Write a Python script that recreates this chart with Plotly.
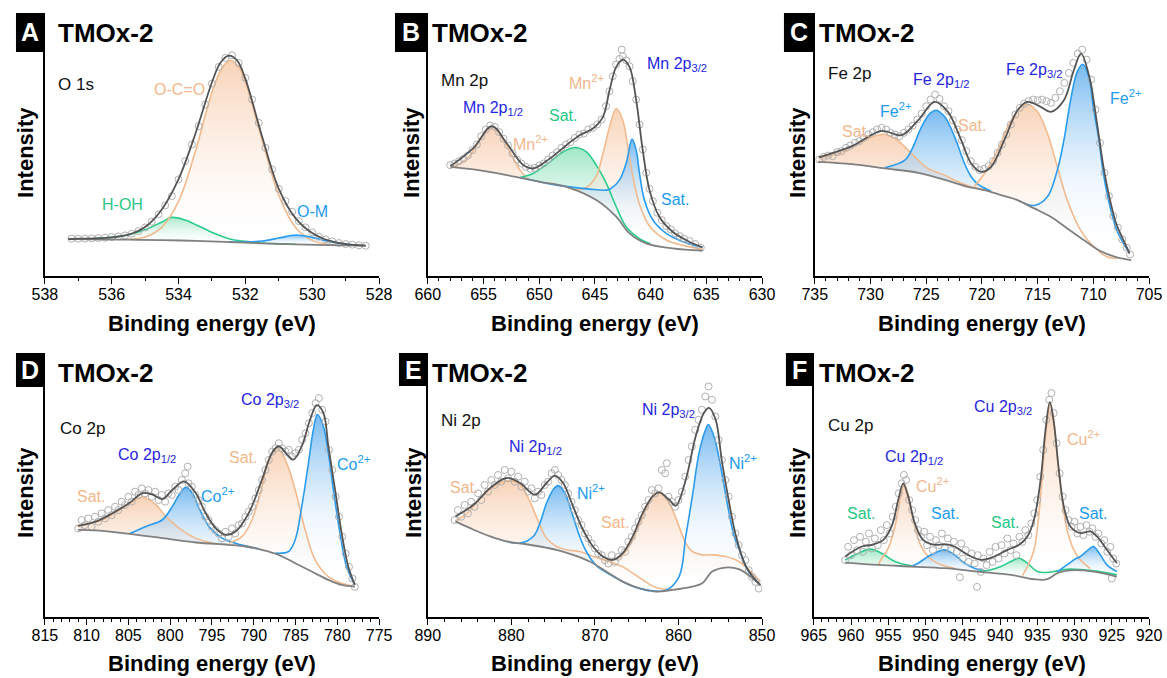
import plotly.graph_objects as go

W, H = 1167, 678
FONT = "Liberation Sans, Arial, sans-serif"

# ===================== DATA (binding energy eV, intensity a.u.) =====================
# ---- A: O 1s ----
A_bg = [(537.3,111),(536.5,110),(535.5,109),(534.5,108),(533.5,105.5),(532.5,102),(531.5,98),(530.5,95),(529.5,93),(528.4,91)]
A_hoh = [(536.5,113),(536.0,116),(535.5,124),(535.0,139),(534.5,162),(534.2,176),(533.8,168),(533.4,150),(533.0,131),(532.5,112),(532.0,104),(531.5,99),(531.0,96.5),(530.5,95.2)]
A_oco = [(535.5,110),(535.0,117),(534.5,146),(534.0,224),(533.5,373),(533.0,552),(532.7,625),(532.45,648),(532.2,628),(532.0,583),(531.5,409),(531.0,243),(530.5,146),(530.0,107),(529.5,95)]
A_om = [(532.5,102.5),(532.0,102),(531.5,105),(531.0,114),(530.5,123),(530.0,116),(529.5,104),(529.0,96),(528.5,92)]
A_env = [(537.3,111),(537.0,112),(536.5,113),(536.0,116),(535.5,124),(535.0,147),(534.5,200),(534.0,291),(533.5,426),(533.0,582),(532.75,640),(532.5,662),(532.25,648),(532.0,592),(531.5,419),(531.0,262),(530.5,174),(530.0,129),(529.5,106),(529.0,96),(528.4,91)]
A_pts = [(537.2,112),(537.0,112),(536.8,112),(536.6,113),(536.4,114),(536.2,115),(536.0,117),(535.8,119),(535.6,122),(535.4,127),(535.2,135),(535.0,146),(534.8,163),(534.6,185),(534.4,212),(534.2,240),(534.0,290),(533.8,345),(533.6,395),(533.4,450),(533.2,515),(533.0,578),(532.8,628),(532.6,655),(532.4,663),(532.2,640),(532.0,595),(531.8,530),(531.6,460),(531.4,385),(531.2,320),(531.0,262),(530.8,225),(530.6,193),(530.4,165),(530.2,146),(530.0,131),(529.8,118),(529.6,110),(529.4,104),(529.2,99),(529.0,96),(528.8,94),(528.6,92),(528.4,91)]

# ---- B: Mn 2p ----
B_bg = [(657.97,328),(655.89,320),(652.91,303),(649.94,283),(647.56,268),(644.88,228),(643.09,178),(641.9,128),(640.41,98),(638.03,83),(635.35,76)]
B_mn1 = [(657.97,329),(657.08,338),(656.19,363),(655.3,413),(654.25,450),(653.36,418),(652.62,373),(651.72,318),(651.13,296)]
B_sat = [(651.72,296),(650.54,308),(649.04,343),(647.85,373),(646.8,386),(645.77,373),(644.88,333),(643.98,278),(643.09,208),(642.2,148),(641.0,112),(640.0,97)]
B_mn2 = [(646.96,258),(645.77,266),(644.88,300),(644.28,368),(643.69,448),(643.09,503),(642.5,468),(642.05,388),(641.6,300),(641.0,215),(640.1,150),(638.6,108),(637.1,92),(635.35,80)]
B_sat2 = [(651.72,296),(648.45,273),(645.47,261),(643.98,258),(643.54,263),(642.8,288),(642.2,338),(641.67,411),(641.3,378),(641.0,308),(640.56,228),(639.8,168),(638.6,128),(637.1,103),(635.35,86)]
B_env = [(657.97,330),(655.89,385),(654.25,450),(652.91,398),(651.42,333),(650.54,323),(649.04,353),(647.56,393),(646.37,423),(645.18,443),(644.28,478),(643.69,558),(643.09,628),(642.5,650),(641.9,628),(641.3,528),(640.71,378),(640.1,258),(639.22,178),(638.03,133),(636.54,103),(635.35,86)]
B_pts = [(658.0,333),(657.6,338),(657.2,345),(656.8,352),(656.4,362),(656.0,378),(655.6,395),(655.2,420),(654.8,440),(654.4,452),(654.0,448),(653.6,432),(653.2,412),(652.8,392),(652.4,368),(652.0,350),(651.6,338),(651.2,328),(650.8,322),(650.4,325),(650.0,332),(649.6,338),(649.2,350),(648.8,362),(648.4,372),(648.0,385),(647.6,395),(647.2,402),(646.8,415),(646.4,425),(646.0,428),(645.6,440),(645.2,445),(644.8,455),(644.4,470),(644.0,510),(643.7,555),(643.4,600),(643.1,635),(642.8,652),(642.6,680),(642.5,660),(642.2,648),(641.9,630),(641.6,585),(641.3,530),(641.0,455),(640.7,380),(640.4,310),(640.1,262),(639.8,225),(639.4,190),(639.0,168),(638.6,150),(638.2,140),(637.8,128),(637.4,120),(637.0,112),(636.5,105),(636.0,96),(635.5,85)]

# ---- C: Fe 2p ----
C_bg = [(734.7,343),(731.67,336),(728.7,323),(725.72,310),(722.75,283),(721.26,268),(719.77,258),(718.28,243),(716.8,228),(715.31,203),(713.83,178),(712.34,143),(710.86,108),(709.37,75),(707.88,56),(706.6,48)]
C_sat1 = [(734.64,355),(732.86,368),(731.67,388),(730.18,413),(728.85,426),(727.8,413),(726.91,388),(726.02,358),(724.83,323),(723.34,303),(722.16,283),(720.96,268),(719.77,258)]
C_fe1 = [(728.7,325),(726.91,348),(726.32,378),(725.42,448),(724.68,488),(724.09,498),(723.34,478),(722.45,418),(721.56,338),(720.96,298),(720.37,276),(719.18,255)]
C_sat2 = [(720.67,270),(719.77,308),(718.58,378),(717.54,458),(716.5,508),(715.91,516),(715.01,493),(714.12,428),(713.23,328),(712.34,228),(711.15,138),(709.96,88),(708.77,58),(707.88,53)]
C_fe2 = [(716.8,228),(715.3,212),(714.12,238),(713.23,318),(712.64,408),(712.04,528),(711.45,613),(710.94,636),(710.4,598),(710.0,508),(709.5,408),(709.1,308),(708.5,208),(707.9,138),(707.3,98),(706.75,68)]
C_env = [(734.64,356),(731.67,390),(729.0,436),(727.21,423),(725.72,468),(724.24,523),(723.05,493),(721.86,408),(720.96,338),(720.07,313),(719.18,328),(717.99,408),(716.8,498),(715.91,523),(714.72,508),(713.83,493),(712.64,528),(711.75,618),(711.1,668),(710.3,590),(709.9,510),(709.5,420),(709.1,330),(708.5,228),(707.9,153),(707.3,108),(706.75,68)]
C_pts = [(734.6,350),(734.2,358),(733.8,362),(733.4,360),(733.0,372),(732.6,375),(732.2,385),(731.8,392),(731.4,400),(731.0,405),(730.6,415),(730.2,425),(729.8,432),(729.4,440),(729.0,445),(728.6,440),(728.2,430),(727.8,425),(727.4,420),(727.0,430),(726.6,440),(726.2,452),(725.8,470),(725.4,488),(725.0,510),(724.6,530),(724.2,545),(723.8,532),(723.4,510),(723.0,495),(722.6,468),(722.2,440),(721.8,408),(721.4,375),(721.0,345),(720.6,328),(720.2,318),(719.8,322),(719.4,330),(719.0,345),(718.6,370),(718.2,395),(717.8,425),(717.4,455),(717.0,485),(716.6,505),(716.2,518),(715.8,525),(715.4,530),(715.0,528),(714.6,530),(714.2,525),(713.8,520),(713.4,535),(713.0,555),(712.6,580),(712.2,610),(711.8,640),(711.4,668),(711.0,680),(710.6,650),(710.2,590),(709.8,500),(709.4,400),(709.0,310),(708.6,240),(708.2,180),(707.8,145),(707.4,110),(707.0,85),(706.7,65)]

# ---- D: Co 2p ----
D_bg = [(811.04,261),(808.85,259),(804.89,249),(800.92,236),(796.95,223),(792.98,216),(790.99,211),(789.01,201),(787.02,186),(785.04,161),(783.06,136),(781.07,111),(779.48,96),(777.9,91)]
D_sat1 = [(811.04,271),(808.06,291),(805.68,326),(803.3,359),(801.71,336),(800.52,301),(798.93,266),(796.95,236),(794.96,221),(792.98,216)]
D_co1 = [(804.89,249),(802.9,271),(800.92,291),(799.73,331),(798.93,366),(798.14,388),(797.35,371),(796.55,326),(795.36,271),(793.77,236),(792.18,221),(790.6,211),(789.4,204)]
D_sat2 = [(792.98,221),(791.39,241),(790.2,291),(789.01,391),(788.21,471),(787.22,506),(786.23,471),(785.04,381),(783.85,261),(782.66,171),(781.07,121),(779.48,101),(777.9,91)]
D_co2 = [(787.42,191),(785.83,196),(785.04,231),(784.25,331),(783.45,461),(782.86,561),(782.38,606),(781.67,571),(781.07,491),(780.47,381),(779.68,251),(778.89,151),(777.9,96)]
D_env = [(811.04,273),(808.85,286),(806.87,311),(804.89,341),(803.3,371),(802.11,366),(800.92,353),(799.73,381),(798.34,406),(796.95,371),(795.76,311),(794.56,266),(793.37,246),(792.18,256),(790.6,311),(789.01,411),(787.82,491),(787.02,511),(785.83,481),(785.24,471),(784.25,511),(783.25,591),(782.46,634),(781.67,611),(781.07,511),(780.27,381),(779.48,251),(778.69,151),(777.9,96)]
D_pts = [(811.0,265),(810.6,290),(810.2,275),(809.8,295),(809.4,270),(809.0,300),(808.6,285),(808.2,310),(807.8,295),(807.4,320),(807.0,305),(806.6,330),(806.2,320),(805.8,345),(805.4,335),(805.0,360),(804.6,345),(804.2,375),(803.8,365),(803.4,385),(803.0,370),(802.6,380),(802.2,360),(801.8,375),(801.4,350),(801.0,365),(800.6,345),(800.2,370),(799.8,365),(799.4,390),(799.0,380),(798.6,410),(798.2,430),(797.9,450),(797.8,400),(797.4,390),(797.0,365),(796.6,350),(796.2,330),(795.8,300),(795.4,290),(795.0,270),(794.6,260),(794.2,250),(793.8,235),(793.4,255),(793.0,240),(792.6,265),(792.2,250),(791.8,275),(791.4,280),(791.0,300),(790.6,315),(790.2,330),(789.8,355),(789.4,380),(789.0,410),(788.6,440),(788.2,470),(787.8,495),(787.4,505),(787.0,520),(786.6,505),(786.2,495),(785.8,500),(785.4,480),(785.0,490),(784.6,500),(784.2,530),(783.8,550),(783.4,580),(783.0,610),(782.6,640),(782.2,655),(781.8,620),(781.4,585),(781.0,500),(780.6,440),(780.2,360),(779.8,300),(779.4,240),(779.0,190),(778.6,150),(778.2,115),(777.9,90)]

# ---- E: Ni 2p ----
E_bg = [(886.7,286),(884.52,261),(882.54,241),(880.55,226),(878.57,219),(876.58,211),(874.6,201),(872.62,186),(870.63,166),(868.65,136),(866.67,106),(864.69,86),(862.7,76),(860.72,81),(858.5,90),(857.15,101),(855.96,136),(854.37,148),(852.78,143),(851.6,125),(850.2,96)]
E_sat1 = [(886.7,288),(885.3,311),(883.72,356),(882.14,391),(880.35,408),(878.97,396),(877.78,346),(876.78,286),(875.79,236),(874.6,211),(873.41,201),(871.82,196),(870.24,181),(868.65,169),(866.67,150),(864.69,118),(862.7,88),(860.72,82)]
E_ni1 = [(880.55,226),(878.97,221),(877.38,241),(876.58,281),(875.79,341),(875.0,381),(874.4,393),(873.61,371),(872.62,301),(871.82,241),(871.03,196),(869.84,154),(867.86,122),(865.48,92),(863.5,78)]
E_sat2 = [(869.05,171),(867.86,169),(866.67,186),(865.48,231),(864.29,301),(863.3,351),(862.5,373),(861.51,356),(860.72,321),(859.93,271),(859.13,221),(858.34,196),(857.15,186),(855.96,186),(854.37,181),(852.78,166),(850.2,106)]
E_ni2 = [(864.69,86),(861.51,80),(859.93,121),(859.13,241),(858.34,361),(857.54,491),(856.75,561),(856.43,576),(855.76,541),(854.96,451),(854.17,341),(853.38,245),(852.78,205),(851.6,135),(850.2,95)]
E_env = [(886.7,301),(884.52,336),(882.54,386),(880.55,416),(878.97,401),(877.18,366),(875.79,401),(874.8,423),(873.81,401),(872.62,331),(871.43,261),(870.24,211),(869.05,181),(867.86,171),(866.67,191),(865.48,241),(864.29,311),(863.1,361),(862.3,373),(861.12,351),(860.32,333),(859.13,411),(857.94,541),(856.95,611),(856.35,626),(855.56,591),(854.8,465),(854.0,350),(853.2,250),(852.0,155),(850.8,111),(850.2,96)]
E_pts = [(886.8,290),(886.4,320),(886.0,300),(885.6,335),(885.2,310),(884.8,345),(884.4,330),(884.0,370),(883.6,350),(883.2,395),(882.8,375),(882.4,410),(882.0,395),(881.6,425),(881.2,405),(880.8,440),(880.4,415),(880.0,435),(879.6,405),(879.2,420),(878.8,390),(878.4,405),(878.0,375),(877.6,385),(877.2,355),(876.8,375),(876.4,365),(876.0,395),(875.6,405),(875.2,430),(874.8,440),(874.4,425),(874.0,410),(873.6,395),(873.2,370),(872.8,345),(872.4,320),(872.0,290),(871.6,275),(871.2,250),(870.8,235),(870.4,220),(870.0,205),(869.6,190),(869.2,185),(868.8,170),(868.4,160),(868.0,185),(867.6,165),(867.2,180),(866.8,200),(866.4,195),(866.0,225),(865.6,240),(865.2,265),(864.8,285),(864.4,305),(864.0,330),(863.6,350),(863.2,380),(862.8,370),(862.4,385),(862.0,440),(861.6,430),(861.4,460),(861.2,360),(860.8,345),(860.4,330),(860.0,350),(859.6,375),(859.2,420),(858.8,470),(858.4,510),(858.0,560),(857.6,590),(857.2,620),(856.8,660),(856.4,690),(856.0,650),(855.6,600),(855.2,530),(854.8,470),(854.4,410),(854.0,360),(853.6,300),(853.2,250),(852.8,215),(852.4,185),(852.0,170),(851.6,140),(851.2,120),(850.8,105),(850.4,85)]

# ---- F: Cu 2p ----
F_bg = [(960.78,163),(956.33,156),(951.89,151),(947.44,146),(943.0,136),(938.55,126),(935.44,113),(933.66,113),(932.33,131),(931.0,139),(927.43,136),(924.32,121)]
F_sat1 = [(960.78,171),(959.0,191),(957.44,203),(955.89,191),(954.11,166),(951.89,153)]
F_cu1 = [(956.33,157),(955.89,175),(955.0,206),(954.11,271),(953.44,351),(952.86,398),(952.33,366),(951.66,291),(950.77,221),(949.66,181),(948.33,160),(946.11,146)]
F_sat2 = [(951.89,151),(951.0,161),(949.66,181),(948.33,196),(947.44,201),(946.11,186),(944.77,161),(943.44,146),(942.0,138)]
F_sat3 = [(943.0,137),(941.66,139),(939.88,151),(938.55,166),(937.44,176),(936.33,161),(935.0,136),(933.89,133),(932.33,138),(931.0,143),(927.43,138),(924.32,126)]
F_cu2 = [(937.0,124),(936.33,150),(935.44,201),(934.77,311),(934.2,461),(933.66,591),(933.31,641),(932.86,601),(932.33,481),(931.66,351),(931.0,261),(930.1,201),(929.21,171),(927.88,145)]
F_sat4 = [(932.33,135),(931.0,156),(930.1,171),(929.21,181),(927.88,206),(927.43,211),(926.54,186),(925.65,156),(924.32,136)]
F_env = [(960.78,181),(958.55,211),(957.22,216),(955.66,231),(954.55,271),(953.66,351),(953.0,399),(952.33,361),(951.44,281),(950.33,231),(948.77,216),(947.44,218),(946.11,211),(944.33,186),(942.55,171),(940.77,181),(938.99,201),(937.44,216),(936.33,241),(935.44,291),(934.55,411),(933.89,561),(933.31,643),(932.77,581),(932.11,441),(931.44,331),(930.55,271),(929.21,251),(927.88,256),(926.99,241),(925.65,201),(924.32,161)]
F_pts = [(960.8,170),(960.4,210),(960.0,185),(959.6,230),(959.2,200),(958.8,240),(958.4,195),(958.0,225),(957.6,250),(957.2,205),(956.8,235),(956.4,215),(956.0,260),(955.6,230),(955.2,275),(954.8,250),(954.4,300),(954.0,330),(953.6,370),(953.2,400),(952.9,425),(952.6,410),(952.2,350),(951.8,320),(951.4,290),(951.0,260),(950.6,240),(950.2,255),(949.8,215),(949.4,240),(949.0,200),(948.6,230),(948.2,215),(947.8,250),(947.4,205),(947.0,235),(946.6,200),(946.2,225),(945.8,195),(945.4,119),(945.2,220),(945.0,175),(944.6,200),(944.2,165),(943.8,190),(943.4,160),(943.1,90),(943.0,185),(942.6,135),(942.2,175),(941.8,155),(941.4,195),(941.0,165),(940.6,210),(940.2,175),(939.8,215),(939.4,190),(939.0,235),(938.6,200),(938.2,220),(937.8,185),(937.4,240),(937.0,225),(936.6,260),(936.2,245),(935.8,280),(935.4,310),(935.0,350),(934.6,420),(934.2,500),(933.8,590),(933.4,650),(933.1,670),(932.8,610),(932.4,520),(932.0,430),(931.6,360),(931.2,320),(930.8,290),(930.4,270),(930.0,285),(929.6,250),(929.2,270),(928.8,245),(928.4,275),(928.0,255),(927.6,265),(927.2,240),(926.8,250),(926.4,220),(926.0,230),(925.6,195),(925.2,210),(925.0,115),(924.8,175),(924.4,160)]

# axis ranges
A_range, B_range, C_range = (538, 528), (660, 630), (735, 705)
D_range, E_range, F_range = (815, 775), (890, 850), (965, 920)

# ===================== STYLE =====================
LINE = {'o': '#F2BA8F', 'g': '#2DCB8B', 'b': '#2B9BEE'}
FILL = {
    'o': [[0, 'rgba(255,255,255,0)'], [0.4, 'rgba(252,232,218,0.40)'], [1, 'rgba(246,196,160,0.75)']],
    'g': [[0, 'rgba(255,255,255,0)'], [0.4, 'rgba(218,246,232,0.40)'], [1, 'rgba(95,215,160,0.60)']],
    'b': [[0, 'rgba(255,255,255,0)'], [0.4, 'rgba(215,235,251,0.40)'], [1, 'rgba(75,163,236,0.75)']],
}
LBL = {'o': '#F3B78B', 'g': '#27C784', 'b': '#1C9BEF', 'd': '#2626E0', 'k': '#111111'}

panels = [
    dict(L='A', x0=42, x1=378, y0=13, y1=276, rng=A_range, dtick=2, minor=1,
         bg=A_bg, comps=[('g', A_hoh), ('o', A_oco), ('b', A_om)], env=A_env, pts=A_pts,
         box=(13, 13, 42, 52), tm=(53, 33), ylab=(22, 152), xlab=(210, 323),
         labels=[('O 1s', 53, 85, 'k', 17, 'left'), ('O-C=O', 177, 89, 'o', 16, 'center'),
                 ('H-OH', 120, 204, 'g', 16, 'center'), ('O-M', 311, 211, 'b', 16, 'center')]),
    dict(L='B', x0=427, x1=763, y0=13, y1=276, rng=B_range, dtick=5, minor=1,
         bg=B_bg, comps=[('o', B_mn1), ('g', B_sat), ('o', B_mn2), ('b', B_sat2)], env=B_env, pts=B_pts,
         box=(394, 13, 426, 52), tm=(429, 33), ylab=(410, 152), xlab=(595, 323),
         labels=[('Mn 2p', 438, 80, 'k', 17, 'left'), ('Mn 2p<sub>1/2</sub>', 493, 108, 'd', 16, 'center'),
                 ('Mn<sup>2+</sup>', 530, 143, 'o', 16, 'center'), ('Sat.', 563, 115, 'g', 16, 'center'),
                 ('Mn<sup>2+</sup>', 587, 82, 'o', 16, 'center'), ('Mn 2p<sub>3/2</sub>', 677, 65, 'd', 16, 'center'),
                 ('Sat.', 675, 200, 'b', 16, 'center')]),
    dict(L='C', x0=816, x1=1152, y0=13, y1=276, rng=C_range, dtick=5, minor=1,
         bg=C_bg, comps=[('o', C_sat1), ('b', C_fe1), ('o', C_sat2), ('b', C_fe2)], env=C_env, pts=C_pts,
         box=(785, 13, 815, 52), tm=(818, 33), ylab=(798, 152), xlab=(984, 323),
         labels=[('Fe 2p', 827, 73, 'k', 17, 'left'), ('Fe<sup>2+</sup>', 897, 110, 'b', 16, 'center'),
                 ('Fe 2p<sub>1/2</sub>', 943, 80, 'd', 16, 'center'), ('Sat.', 857, 132, 'o', 16, 'center'),
                 ('Sat.', 974, 125, 'o', 16, 'center'), ('Fe 2p<sub>3/2</sub>', 1036, 70, 'd', 16, 'center'),
                 ('Fe<sup>2+</sup>', 1128, 97, 'b', 16, 'center')]),
    dict(L='D', x0=42, x1=378, y0=353, y1=617, rng=D_range, dtick=5, minor=1,
         bg=D_bg, comps=[('o', D_sat1), ('b', D_co1), ('o', D_sat2), ('b', D_co2)], env=D_env, pts=D_pts,
         box=(13, 353, 42, 387), tm=(53, 373), ylab=(22, 492), xlab=(210, 663),
         labels=[('Co 2p', 55, 428, 'k', 17, 'left'), ('Co 2p<sub>1/2</sub>', 145, 455, 'd', 16, 'center'),
                 ('Sat.', 88, 497, 'o', 16, 'center'), ('Co<sup>2+</sup>', 216, 495, 'b', 16, 'center'),
                 ('Co 2p<sub>3/2</sub>', 268, 400, 'd', 16, 'center'), ('Sat.', 241, 457, 'o', 16, 'center'),
                 ('Co<sup>2+</sup>', 352, 463, 'b', 16, 'center')]),
    dict(L='E', x0=427, x1=763, y0=353, y1=617, rng=E_range, dtick=10, minor=2,
         bg=E_bg, comps=[('o', E_sat1), ('b', E_ni1), ('o', E_sat2), ('b', E_ni2)], env=E_env, pts=E_pts,
         box=(398, 353, 427, 386), tm=(429, 373), ylab=(412, 492), xlab=(595, 663),
         labels=[('Ni 2p', 438, 420, 'k', 17, 'left'), ('Ni 2p<sub>1/2</sub>', 535, 447, 'd', 16, 'center'),
                 ('Sat.', 463, 487, 'o', 16, 'center'), ('Ni<sup>2+</sup>', 591, 492, 'b', 16, 'center'),
                 ('Sat.', 615, 522, 'o', 16, 'center'), ('Ni 2p<sub>3/2</sub>', 669, 410, 'd', 16, 'center'),
                 ('Ni<sup>2+</sup>', 744, 462, 'b', 16, 'center')]),
    dict(L='F', x0=815, x1=1152, y0=353, y1=617, rng=F_range, dtick=5, minor=1,
         bg=F_bg, comps=[('g', F_sat1), ('o', F_cu1), ('b', F_sat2), ('g', F_sat3), ('o', F_cu2), ('b', F_sat4)],
         env=F_env, pts=F_pts,
         box=(787, 353, 815, 386), tm=(818, 373), ylab=(798, 492), xlab=(984, 663),
         labels=[('Cu 2p', 827, 425, 'k', 17, 'left'), ('Cu 2p<sub>1/2</sub>', 916, 457, 'd', 16, 'center'),
                 ('Cu<sup>2+</sup>', 934, 485, 'o', 16, 'center'), ('Sat.', 862, 513, 'g', 16, 'center'),
                 ('Sat.', 947, 513, 'b', 16, 'center'), ('Sat.', 1007, 522, 'g', 16, 'center'),
                 ('Cu 2p<sub>3/2</sub>', 1005, 407, 'd', 16, 'center'), ('Cu<sup>2+</sup>', 1086, 438, 'o', 16, 'center'),
                 ('Sat.', 1096, 513, 'b', 16, 'center')]),
]

# horizontal placement of the paper in the photographed page (x = 10 .. 1157); full height
PX0, PXW, PYH = 10.0, 1147.0, 678.0


def X(p):
    return (p - PX0) / PXW


def Y(p):
    return 1 - p / PYH


def xy(pairs):
    return [p[0] for p in pairs], [p[1] for p in pairs]


def full_curve(bg, comp):
    hi = max(p[0] for p in comp)
    lo = min(p[0] for p in comp)
    pts = [p for p in bg if p[0] > hi] + list(comp) + [p for p in bg if p[0] < lo]
    pts.sort(key=lambda p: -p[0])
    return xy(pts)


fig = go.Figure()
layout = dict(width=W, height=H, autosize=False, margin=dict(l=0, r=0, t=0, b=0, pad=0),
              paper_bgcolor='white', plot_bgcolor='white', showlegend=False,
              font=dict(family=FONT, color='black', size=16))
annotations, shapes = [], []

for i, p in enumerate(panels, start=1):
    xs = 'x' if i == 1 else f'x{i}'
    ys = 'y' if i == 1 else f'y{i}'
    layout['xaxis' if i == 1 else f'xaxis{i}'] = dict(
        domain=[X(p['x0']), X(p['x1'])], range=list(p['rng']), anchor=ys,
        showline=True, linecolor='black', linewidth=1.5, mirror=False,
        ticks='outside', ticklen=6, tickwidth=1.3, tickcolor='black',
        ticklabelstandoff=-3,
        tick0=p['rng'][1], dtick=p['dtick'], showgrid=False, zeroline=False,
        tickfont=dict(family=FONT, size=16, color='black'),
        minor=dict(ticks='outside', ticklen=3, tickwidth=1, tickcolor='black',
                   dtick=p['minor'], tick0=p['rng'][1], showgrid=False))
    layout['yaxis' if i == 1 else f'yaxis{i}'] = dict(
        domain=[Y(p['y1']), Y(p['y0'])], range=[0, 790], anchor=xs,
        showline=True, linecolor='black', linewidth=1.5, ticks='',
        showticklabels=False, showgrid=False, zeroline=False)

    bx, by = xy(p['bg'])
    # filled components (fill between background and component)
    for kind, comp in p['comps']:
        fig.add_trace(go.Scatter(x=bx, y=by, mode='lines', line=dict(width=0, shape='spline'),
                                 hoverinfo='skip', xaxis=xs, yaxis=ys))
        fx, fy = full_curve(p['bg'], comp)
        fig.add_trace(go.Scatter(x=fx, y=fy, mode='lines', line=dict(width=0, shape='spline'),
                                 fill='tonexty',
                                 fillgradient=dict(type='vertical', colorscale=FILL[kind]),
                                 hoverinfo='skip', xaxis=xs, yaxis=ys))
    for kind, comp in p['comps']:
        cx, cy = xy(comp)
        fig.add_trace(go.Scatter(x=cx, y=cy, mode='lines',
                                 line=dict(color=LINE[kind], width=1.6, shape='spline'),
                                 hoverinfo='skip', xaxis=xs, yaxis=ys))
    sx, sy = xy(p['pts'])
    fig.add_trace(go.Scatter(x=sx, y=sy, mode='markers',
                             marker=dict(symbol='circle-open', size=7, color='#b0b0b0',
                                         line=dict(width=1, color='#b0b0b0')),
                             hoverinfo='skip', xaxis=xs, yaxis=ys))
    fig.add_trace(go.Scatter(x=bx, y=by, mode='lines',
                             line=dict(color='#808080', width=1.8, shape='spline'),
                             hoverinfo='skip', xaxis=xs, yaxis=ys))
    ex, ey = xy(p['env'])
    fig.add_trace(go.Scatter(x=ex, y=ey, mode='lines',
                             line=dict(color='#555555', width=1.8, shape='spline'),
                             hoverinfo='skip', xaxis=xs, yaxis=ys))

    # label box + titles
    bx0, by0, bx1, by1 = p['box']
    shapes.append(dict(type='rect', xref='paper', yref='paper', x0=X(bx0), x1=X(bx1),
                       y0=Y(by1), y1=Y(by0), fillcolor='black', line=dict(width=0)))
    annotations.append(dict(text='<b>%s</b>' % p['L'], x=X((bx0 + bx1) / 2), y=Y((by0 + by1) / 2),
                            xref='paper', yref='paper', showarrow=False, xanchor='center', yanchor='middle',
                            font=dict(family=FONT, size=25, color='white')))
    annotations.append(dict(text='<b>TMOx-2</b>', x=X(p['tm'][0]), y=Y(p['tm'][1]),
                            xref='paper', yref='paper', showarrow=False, xanchor='left', yanchor='middle',
                            font=dict(family=FONT, size=26, color='black')))
    annotations.append(dict(text='<b>Intensity</b>', x=X(p['ylab'][0]), y=Y(p['ylab'][1]),
                            xref='paper', yref='paper', showarrow=False, textangle=-90,
                            xanchor='center', yanchor='middle',
                            font=dict(family=FONT, size=22, color='black')))
    annotations.append(dict(text='<b>Binding energy (eV)</b>', x=X(p['xlab'][0]), y=Y(p['xlab'][1]),
                            xref='paper', yref='paper', showarrow=False,
                            xanchor='center', yanchor='middle',
                            font=dict(family=FONT, size=22, color='black')))
    for text, lx, ly, ck, sz, anc in p['labels']:
        annotations.append(dict(text=text, x=X(lx), y=Y(ly), xref='paper', yref='paper',
                                showarrow=False, xanchor=anc, yanchor='middle',
                                font=dict(family=FONT, size=sz, color=LBL[ck])))

layout['annotations'] = annotations
layout['shapes'] = shapes
fig.update_layout(**layout)
fig.write_html("out.html")
